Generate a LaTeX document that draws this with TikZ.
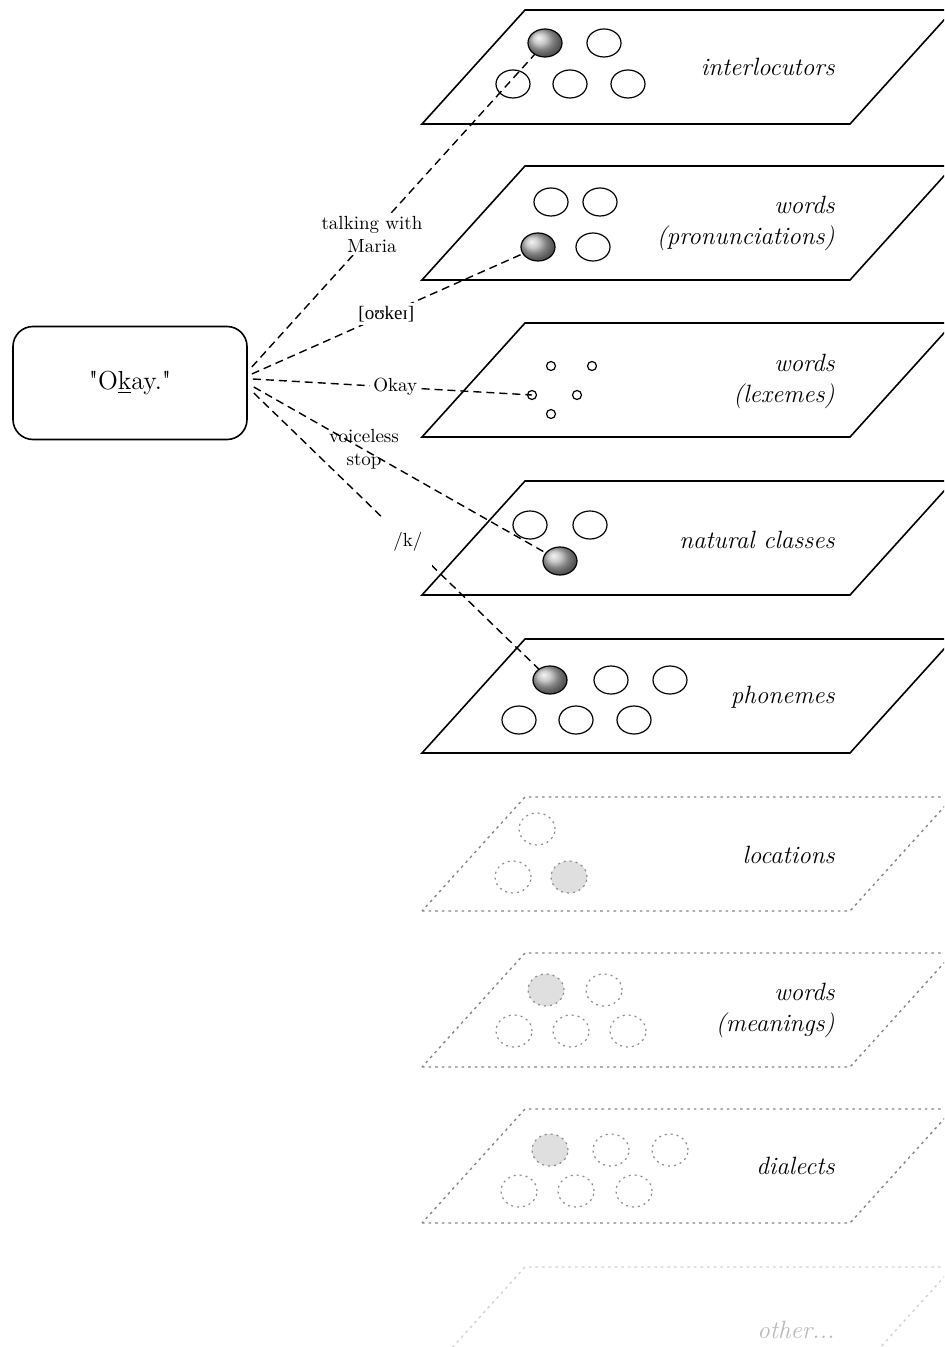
\documentclass[tikz,border=0pt]{standalone}
\usepackage{fontspec}
\newfontfamily\ipafont{Liberation Serif}
\usetikzlibrary{shapes.geometric}
\tikzset{x=0.5pt, y=-0.5pt,
layer/.style={ % solid planes
draw, fill=white, line width=0.8pt},
ghost/.style={ % dotted planes
draw=gray!95, fill=white, line width=0.7pt, dash pattern=on 1.3pt off 2pt},
faded/.style={ghost, draw=gray!35},
tok/.style={ellipse, draw, line width=0.6pt, minimum width=17pt, minimum height=14pt, inner sep=0pt},
hit/.style={tok, shading=ball, ball color=gray!55},
dot/.style={circle, draw, line width=0.6pt, minimum size=4.5pt, inner sep=0pt},
ghosttok/.style={tok, minimum width=18pt, minimum height=16pt, draw=gray!90, dash pattern=on 1pt off 2pt},
ghosthit/.style={ghosttok, fill=gray!25},
lbl/.style={font=\fontsize{12.5}{15.5}\selectfont\itshape, anchor=east, align=right, inner sep=0pt},
tag/.style={font=\fontsize{9.5}{11.5}\selectfont, align=center, inner sep=1.5pt},
conn/.style={draw, line width=0.7pt, dash pattern=on 4pt off 2.5pt}}
\begin{document}
\begin{tikzpicture}
\useasboundingbox (0,0) rectangle (944,1347);
\clip (0,0) rectangle (944,1347);

% planes
\foreach \t in {10,166,323,481,639}
  \draw[layer] (422,\t+114) -- (850,\t+114) -- (953,\t) -- (525,\t) -- cycle;
\foreach \t in {797,953,1109}
  \draw[ghost] (422,\t+114) -- (850,\t+114) -- (953,\t) -- (525,\t) -- cycle;
\draw[faded] (422,1381) -- (850,1381) -- (953,1267) -- (525,1267) -- cycle;

% plane labels
\node[lbl] at (835,67) {interlocutors};
\node[lbl] at (835,223) {words\\(pronunciations)};
\node[lbl] at (835,381) {words\\(lexemes)};
\node[lbl] at (835,540) {natural classes};
\node[lbl] at (835,697) {phonemes};
\node[lbl] at (835,855) {locations};
\node[lbl] at (835,1010) {words\\(meanings)};
\node[lbl] at (835,1166) {dialects};
\node[lbl, text=gray!55] at (835,1330) {other...};

% utterance
\node[draw, line width=0.8pt, rounded corners=10pt, minimum width=117pt, minimum height=56.5pt,
  font=\fontsize{13}{15}\selectfont] (okay) at (130,383) {\textquotedbl O\underline{k}ay.\textquotedbl};

% connectors
\draw[conn] ([shift={(4,-16)}]okay.east) -- node[tag, fill=white, pos=0.41] {talking with\\Maria} (545,43);
\draw[conn] ([shift={(4,-9)}]okay.east) -- node[tag, fill=white, pos=0.47] {\ipafont [oʊkeɪ]} (538,247);
\draw[conn] ([shift={(5,-4)}]okay.east) -- node[tag, fill=white, pos=0.51] {Okay} (532,395);
\draw[conn] ([shift={(6,4)}]okay.east) -- node[tag, pos=0.36] {voiceless\\stop} (560,561);
\draw[conn] ([shift={(6,10)}]okay.east) -- node[tag, fill=white, minimum width=24pt, minimum height=26pt, pos=0.52] {/k/} (550,680);

% tokens
\node[hit] (int1) at (545,43) {};
\node[tok] (int2) at (604,43) {};
\node[tok] (int3) at (513,84) {};
\node[tok] (int4) at (570,84) {};
\node[tok] (int5) at (628,84) {};

\node[tok] (pro1) at (551,202) {};
\node[tok] (pro2) at (600,202) {};
\node[hit] (pro3) at (538,247) {};
\node[tok] (pro4) at (593,247) {};

\node[dot] (lex1) at (551,366) {};
\node[dot] (lex2) at (592,366) {};
\node[dot] (lex3) at (532,395) {};
\node[dot] (lex4) at (577,395) {};
\node[dot] (lex5) at (551,414) {};

\node[tok] (nat1) at (530,525) {};
\node[tok] (nat2) at (590,525) {};
\node[hit] (nat3) at (560,561) {};

\node[hit] (pho1) at (550,680) {};
\node[tok] (pho2) at (611,680) {};
\node[tok] (pho3) at (670,680) {};
\node[tok] (pho4) at (519,720) {};
\node[tok] (pho5) at (576,720) {};
\node[tok] (pho6) at (634,720) {};

\node[ghosttok] (loc1) at (537,829) {};
\node[ghosttok] (loc2) at (513,877) {};
\node[ghosthit] (loc3) at (569,877) {};

\node[ghosthit] (mea1) at (546,990) {};
\node[ghosttok] (mea2) at (604,990) {};
\node[ghosttok] (mea3) at (514,1031) {};
\node[ghosttok] (mea4) at (571,1031) {};
\node[ghosttok] (mea5) at (628,1031) {};

\node[ghosthit] (dia1) at (550,1150) {};
\node[ghosttok] (dia2) at (611,1150) {};
\node[ghosttok] (dia3) at (670,1150) {};
\node[ghosttok] (dia4) at (519,1191) {};
\node[ghosttok] (dia5) at (576,1191) {};
\node[ghosttok] (dia6) at (634,1191) {};
\end{tikzpicture}
\end{document}
